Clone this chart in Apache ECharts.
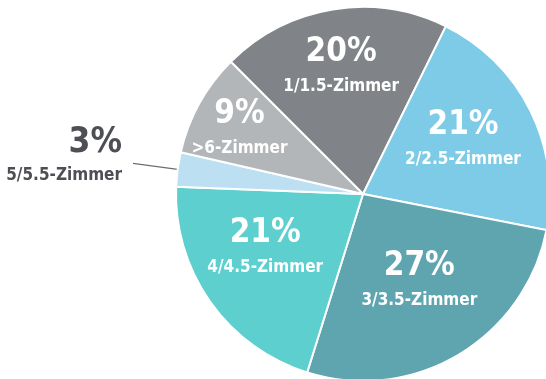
<!DOCTYPE html>
<html>
<head>
<meta charset="utf-8">
<script src="https://cdn.jsdelivr.net/npm/echarts@6/dist/echarts.min.js"></script>
<style>
  html, body { margin: 0; padding: 0; background: #fff; }
  #main { width: 546px; height: 379px; }
</style>
</head>
<body>
<div id="main"></div>
<script>
var names = ['1/1.5-Zimmer', '2/2.5-Zimmer', '3/3.5-Zimmer', '4/4.5-Zimmer', '5/5.5-Zimmer', '>6-Zimmer'];
var shares = [20, 21, 27, 21, 3, 9];
var colors = ['#808488', '#7ecbe7', '#5fa5b0', '#5ccfce', '#bcdff2', '#b3b6b9'];

var font = '"DejaVu Sans Condensed", "Liberation Sans Narrow", sans-serif';

// small nudges for a couple of inside labels
var labelNudge = { '2/2.5-Zimmer': [-4, -3], '>6-Zimmer': [-22, -9] };

var chart = echarts.init(document.getElementById('main'));

var pieData = names.map(function (n, i) {
  return { name: n, value: shares[i], itemStyle: { color: colors[i] } };
});

// labels sit further out than half radius, so they go on a transparent ring series
var labelData = names.map(function (n, i) {
  var d = { name: n, value: shares[i] };
  if (shares[i] < 5) {
    d.label = {
      position: 'outside',
      align: 'right',
      overflow: 'none',
      distanceToLabelLine: 11,
      offset: [0, -7],
      rich: {
        p: { fontSize: 35, fontWeight: 'bold', color: '#4d4f54', lineHeight: 38, fontFamily: font, align: 'right' },
        n: { fontSize: 17, fontWeight: 'bold', color: '#4d4f54', lineHeight: 28, fontFamily: font, align: 'right' }
      }
    };
    d.labelLine = { show: true, length: 45, length2: 0, lineStyle: { color: '#6d6e71', width: 1.2 } };
  }
  if (labelNudge[n]) {
    d.label = { offset: labelNudge[n] };
  }
  return d;
});

var option = {
  backgroundColor: '#fff',
  animation: false,
  series: [
    {
      type: 'pie',
      center: [363, 194],
      radius: [0, 187],
      startAngle: 135,
      clockwise: true,
      silent: true,
      label: { show: false },
      labelLine: { show: false },
      itemStyle: { borderColor: '#fff', borderWidth: 2 },
      data: pieData
    },
    {
      type: 'pie',
      center: [363, 194],
      radius: [39, 187],
      startAngle: 135,
      clockwise: true,
      silent: true,
      avoidLabelOverlap: false,
      itemStyle: { color: 'rgba(0,0,0,0)' },
      labelLine: { show: false },
      label: {
        show: true,
        position: 'inside',
        overflow: 'none',
        offset: [-3, -13],
        formatter: function (p) { return '{p|' + p.value + '%}\n{n|' + p.name + '}'; },
        rich: {
          p: { fontSize: 33, fontWeight: 'bold', color: '#fff', lineHeight: 40, fontFamily: font },
          n: { fontSize: 17, fontWeight: 'bold', color: '#fff', lineHeight: 28, fontFamily: font }
        }
      },
      data: labelData
    }
  ]
};

chart.setOption(option);
window.onresize = function () { chart.resize(); };
</script>
</body>
</html>
